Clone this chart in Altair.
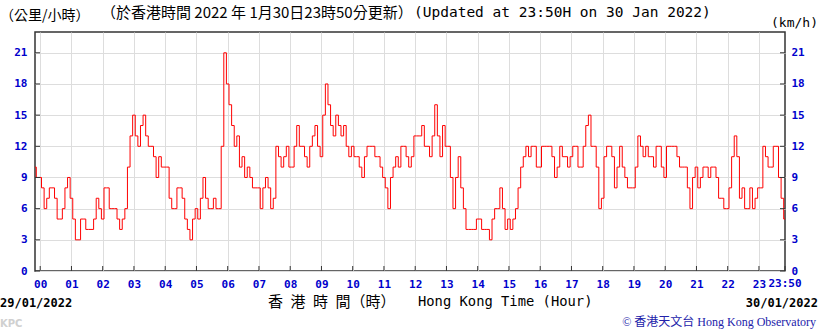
import altair as alt
import pandas as pd

# ---- data (readings every 5 minutes, 29/01 23:50 -> 30/01 23:50) ----
minutes = list(range(-10, 1431, 5))
speed = [
    # -10 .. 355
    10, 9, 9, 8, 6, 7, 8, 8, 7, 5, 5, 6, 8, 9, 7, 5, 3, 3, 5, 5,
    4, 4, 4, 5, 7, 6, 5, 8, 8, 6, 6, 6, 5, 4, 5, 6, 10, 13, 15, 13,
    12, 14, 15, 13, 12, 12, 11, 9, 11, 10, 10, 10, 7, 6, 6, 8, 8, 7, 5, 4,
    3, 5, 6, 5, 7, 9, 7, 6, 6, 7, 6, 6, 12, 21,
    # 360 .. 715
    18, 16, 14, 12, 13, 10, 11, 9, 10, 9, 8, 8, 8, 6, 8, 9, 8, 6, 7, 12,
    11, 10, 11, 12, 10, 10, 12, 14, 12, 12, 11, 10, 12, 13, 14, 12, 11, 15, 18, 16,
    14, 13, 15, 14, 13, 14, 12, 11, 12, 11, 11, 10, 9, 11, 12, 12, 12, 11, 11, 10,
    9, 8, 6, 9, 10, 11, 10, 12, 12, 11, 10, 11,
    # 720 .. 1075
    13, 13, 13, 14, 12, 12, 11, 13, 16, 13, 11, 14, 12, 12, 9, 6, 9, 11, 8, 6,
    4, 4, 4, 4, 5, 5, 4, 4, 4, 3, 5, 6, 6, 8, 6, 4, 5, 4, 5, 6,
    8, 10, 11, 12, 11, 12, 12, 10, 10, 12, 12, 12, 12, 11, 9, 10, 12, 11, 11, 10,
    11, 12, 12, 10, 10, 12, 14, 15, 12, 12, 10, 6,
    # 1080 .. 1430
    7, 11, 12, 12, 11, 8, 10, 12, 10, 9, 8, 8, 8, 10, 13, 12, 11, 12, 11, 11,
    10, 12, 12, 10, 9, 12, 12, 12, 12, 11, 10, 10, 10, 8, 6, 9, 10, 8, 9, 10,
    10, 9, 10, 10, 9, 7, 7, 6, 6, 8, 11, 13, 11, 7, 8, 6, 6, 8, 6, 7,
    8, 8, 12, 11, 10, 10, 12, 12, 9, 7, 5,
]
hour_ticks = [h * 60 for h in range(24)]
end_tick = [1430]
end_label = ["23:50"]
y_ticks = [0, 3, 6, 9, 12, 15, 18, 21]

title_zh = "（於香港時間 2022 年 1月30日23時50分更新）"
title_en = "(Updated at 23:50H on 30 Jan 2022)"
unit_zh = "（公里/小時）"
unit_en = "(km/h)"
date_left = "29/01/2022"
date_right = "30/01/2022"
xtitle_zh = "香\u2002港\u2002時\u2002間（時）"
xtitle_en = "Hong Kong Time (Hour)"
credit = "© 香港天文台 Hong Kong Observatory"
tag = "KPC"

# ---- layout ----
W, H = 750, 239
L, T = 35, 32
BLUE = "#0000cc"
MONO = "DejaVu Sans Mono"
CJK = "Noto Sans CJK TC"

df = pd.DataFrame({"t": minutes[: len(speed)], "v": speed})
xscale = alt.Scale(domain=[-10, 1430], nice=False, zero=False)
yscale = alt.Scale(domain=[0, 23], nice=False, zero=True)

xaxis = alt.Axis(
    values=hour_ticks,
    labelExpr="(datum.value < 600 ? '0' : '') + format(datum.value / 60, 'd')",
    title=None, grid=True, gridColor="#dddddd", gridWidth=1, ticks=False, domain=False,
    labelFont=MONO, labelFontWeight="bold", labelFontSize=11, labelColor=BLUE,
    labelPadding=7, labelOverlap=False, labelFlush=False, labelBound=False,
)
X = alt.X("t:Q", scale=xscale, axis=xaxis)

yaxis_left = alt.Axis(
    values=y_ticks, orient="left", title=None, grid=True, gridColor="#dddddd", gridWidth=1,
    ticks=False, domain=False, labelFont=MONO, labelFontWeight="bold", labelFontSize=11,
    labelColor=BLUE, labelPadding=8, labelOverlap=False,
)
yaxis_right = alt.Axis(
    values=y_ticks, orient="right", title=None, grid=False,
    ticks=False, domain=False, labelFont=MONO, labelFontWeight="bold", labelFontSize=11,
    labelColor=BLUE, labelPadding=6, labelOverlap=False,
)

line = alt.Chart(df).mark_line(color="#ff0000", strokeWidth=1, interpolate="step").encode(
    x=X,
    y=alt.Y("v:Q", scale=yscale, axis=yaxis_left),
)

ydf = pd.DataFrame({"y": y_ticks})
xdf = pd.DataFrame({"t": hour_ticks + end_tick})
edf = pd.DataFrame({"t": end_tick, "s": end_label})

right_ticks = alt.Chart(ydf).mark_rule(color="#333333").encode(
    y=alt.Y("y:Q", scale=yscale, axis=yaxis_right),
    x=alt.value(W), x2=alt.value(W - 5),
)
left_ticks = alt.Chart(ydf).mark_rule(color="#333333").encode(
    y=alt.Y("y:Q", scale=yscale, axis=None),
    x=alt.value(0), x2=alt.value(5),
)
bottom_ticks = alt.Chart(xdf).mark_rule(color="#333333").encode(
    x=X, y=alt.value(H), y2=alt.value(H - 5),
)
end_text = alt.Chart(edf).mark_text(
    align="center", baseline="top", font=MONO, fontSize=11, fontWeight="bold", color=BLUE,
).encode(
    x=X, y=alt.value(H + 7), text="s:N",
)


def label(text, px, py, size, font, color="#000000", align="left", weight="normal"):
    return alt.Chart(pd.DataFrame({"s": [text]})).mark_text(
        align=align, baseline="middle", fontSize=size, font=font, color=color,
        fontWeight=weight,
    ).encode(text="s:N", x=alt.value(px - L), y=alt.value(py - T))


texts = [
    label(unit_zh, 0, 16, 14, CJK),
    label(title_zh, 101, 13, 15, CJK),
    label(title_en, 414, 13, 14.5, MONO),
    label(unit_en, 818, 23, 13, MONO, align="right"),
    label(date_left, 0, 303, 12, MONO, weight="bold"),
    label(date_right, 818, 303, 12, MONO, align="right", weight="bold"),
    label(xtitle_zh, 268, 302, 15, CJK),
    label(xtitle_en, 418, 302, 13.8, MONO),
    label(tag, 0, 324, 10, "DejaVu Sans", color="#d0d0d0", weight="bold"),
    label(credit, 816, 322, 12, "'Liberation Serif', 'Noto Sans CJK TC'", color="#2222aa", align="right"),
]

chart = alt.layer(line, right_ticks, left_ticks, bottom_ticks, end_text, *texts).resolve_scale(
    y="independent"
).properties(
    width=W, height=H,
    autosize=alt.AutoSizeParams(type="none"),
    padding={"left": L, "top": T, "right": 819 - L - W, "bottom": 331 - T - H},
    background="#ffffff",
).configure_view(stroke="#333333", strokeWidth=1.5)

chart.save("out.html", embed_options={"renderer": "svg", "actions": False})
